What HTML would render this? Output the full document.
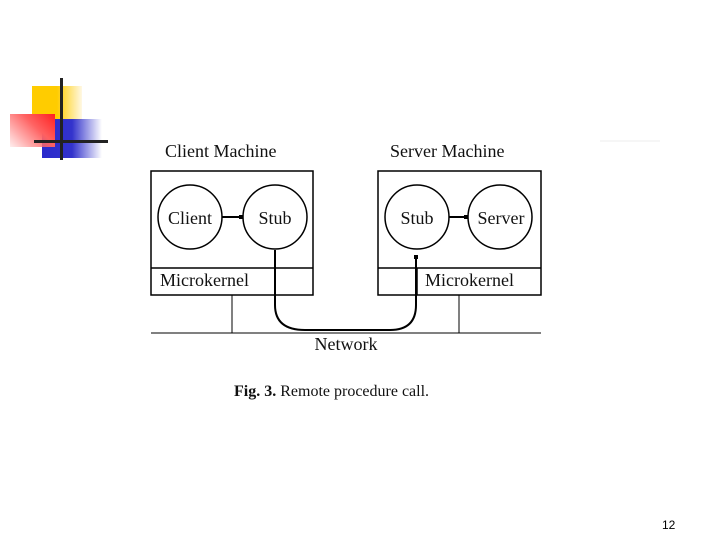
<!DOCTYPE html>
<html><head><style>
body{margin:0;width:720px;height:540px;background:#fff;position:relative;overflow:hidden;font-family:"Liberation Serif",serif}
div.a{position:absolute}
</style></head><body>
<div class="a" style="left:32px;top:86px;width:50px;height:34px;background:linear-gradient(90deg,#ffcc00 0%,#ffcc00 50%,rgba(255,220,120,0.2) 100%)"></div>
<div class="a" style="left:42px;top:119px;width:60px;height:39px;background:linear-gradient(90deg,#2a2acc 0%,#3333cc 50%,rgba(80,80,220,0) 100%)"></div>
<div class="a" style="left:10px;top:114px;width:45px;height:33px;background:linear-gradient(45deg,rgba(255,200,200,0.3) 0%,#ff6060 60%,#ff2020 100%)"></div>
<div class="a" style="left:60px;top:78px;width:3px;height:82px;background:#222"></div>
<div class="a" style="left:34px;top:140px;width:74px;height:3px;background:#222"></div>
<svg class="a" style="left:0;top:0" width="720" height="540">
<g fill="none" stroke="#000" stroke-width="1.5">
<rect x="151" y="171" width="162" height="124"/>
<line x1="151" y1="268" x2="313" y2="268"/>
<rect x="378" y="171" width="163" height="124"/>
<line x1="378" y1="268" x2="541" y2="268"/>
<line x1="417" y1="268" x2="417" y2="295"/>
<line x1="151" y1="333" x2="541" y2="333" stroke-width="1"/>
<line x1="232" y1="295" x2="232" y2="333" stroke-width="1"/>
<line x1="459" y1="295" x2="459" y2="333" stroke-width="1"/>
<circle cx="190" cy="217" r="32"/>
<circle cx="275" cy="217" r="32"/>
<circle cx="417" cy="217" r="32"/>
<circle cx="500" cy="217" r="32"/>
<line x1="222" y1="217" x2="243" y2="217" stroke-width="2"/>
<line x1="449" y1="217" x2="468" y2="217" stroke-width="2"/>
<path d="M275 250 L275 305 Q275 330 305 330 L390 330 Q416 330 416 305 L416 257" stroke-width="2"/>
</g>
<rect x="239" y="215" width="4" height="4"/><rect x="464" y="215" width="4" height="4"/><rect x="414" y="255" width="4" height="4"/>
<g font-family="Liberation Serif, serif" font-size="18" fill="#111">
<text x="165" y="157">Client Machine</text>
<text x="390" y="157">Server Machine</text>
<text x="190" y="224" text-anchor="middle">Client</text>
<text x="275" y="224" text-anchor="middle">Stub</text>
<text x="417" y="224" text-anchor="middle">Stub</text>
<text x="501" y="224" text-anchor="middle">Server</text>
<text x="160" y="286">Microkernel</text>
<text x="425" y="286">Microkernel</text>
<text x="346" y="350" text-anchor="middle">Network</text>
<text x="234" y="396" font-size="16"><tspan font-weight="bold">Fig. 3.</tspan> Remote procedure call.</text>
</g>
<line x1="600" y1="141" x2="660" y2="141" stroke="#eee" stroke-width="1"/>
<text x="662" y="529" font-family="Liberation Sans, sans-serif" font-size="12" fill="#000">12</text>
</svg>
</body></html>
